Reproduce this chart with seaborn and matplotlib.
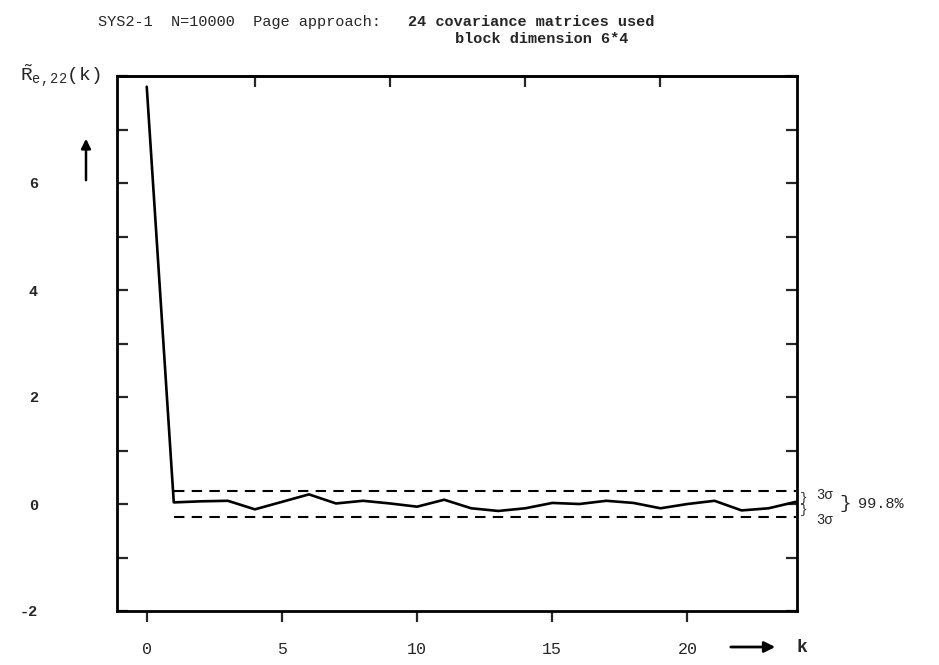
import numpy as np
import pandas as pd
import matplotlib
matplotlib.use("Agg")
import matplotlib.pyplot as plt
import matplotlib.transforms as mtrans
from matplotlib.ticker import MultipleLocator
import seaborn as sns

# ---- data ----
lags = list(range(0, 25))
r_e22 = [7.8, 0.03, 0.05, 0.06, -0.10, 0.04, 0.18, 0.01, 0.06, 0.01, -0.05,
         0.08, -0.08, -0.13, -0.08, 0.02, 0.00, 0.06, 0.02, -0.08, 0.00,
         0.06, -0.12, -0.08, 0.04]
conf_k = [1, 24]
conf_upper = [0.234, 0.234]
conf_lower = [-0.234, -0.234]
xticks = [0, 5, 10, 15, 20]
xticklabels = ["0", "5", "10", "15", "20"]
top_ticks = [4, 9, 14, 19]
yticks = [-2, 0, 2, 4, 6]
yticklabels = ["-2", "0", "2", "4", "6"]

sns.set_style("white")
plt.rcParams["font.family"] = ["Liberation Mono", "DejaVu Sans Mono", "DejaVu Sans"]
plt.rcParams["mathtext.fontset"] = "custom"
plt.rcParams["mathtext.rm"] = "Liberation Mono"
plt.rcParams["mathtext.it"] = "Liberation Mono"
plt.rcParams["mathtext.bf"] = "Liberation Mono:bold"

W, H = 939, 665
fig = plt.figure(figsize=(W / 100, H / 100), dpi=100)
fig.patch.set_facecolor("white")
ax = fig.add_axes([117 / W, (H - 611) / H, (797 - 117) / W, (611 - 76) / H])

df = pd.DataFrame({"k": lags, "R": r_e22})
sns.lineplot(data=df, x="k", y="R", ax=ax, color="black", lw=1.9)
dfu = pd.DataFrame({"k": conf_k, "v": conf_upper})
dfl = pd.DataFrame({"k": conf_k, "v": conf_lower})
for d in (dfu, dfl):
    sns.lineplot(data=d, x="k", y="v", ax=ax, color="black", lw=1.5,
                 linestyle=(0, (5, 3.5)))

ax.set_xlim(-1.1, 24.05)
ax.set_ylim(-2, 8)
ax.set_xlabel("")
ax.set_ylabel("")

for s in ax.spines.values():
    s.set_visible(True)
    s.set_linewidth(2.0)
    s.set_color("black")

ax.set_xticks(xticks)
ax.set_xticklabels(xticklabels, fontsize=12)
ax.tick_params(axis="x", direction="out", length=8, width=1.6, pad=14,
               bottom=True, top=False)
ax.set_yticks(yticks)
ax.set_yticklabels(yticklabels, fontsize=11, fontweight="bold")
ax.yaxis.set_minor_locator(MultipleLocator(1))
ax.tick_params(axis="y", which="both", direction="in", length=8, width=1.6,
               left=True, right=True, pad=57)

sec = ax.secondary_xaxis("top")
sec.set_xticks(top_ticks)
sec.tick_params(axis="x", direction="in", length=8, width=1.6, labeltop=False)
sec.spines["top"].set_linewidth(2.0)

# title
fig.text(98 / W, 1 - 22 / H, "SYS2-1  N=10000  Page approach:", fontsize=11,
         va="center", ha="left")
fig.text(408 / W, 1 - 22 / H, "24 covariance matrices used", fontsize=11,
         fontweight="bold", va="center", ha="left")
fig.text(455 / W, 1 - 39 / H, "block dimension 6*4", fontsize=11,
         fontweight="bold", va="center", ha="left")

# y label with arrow
fig.text(20 / W, 1 - 82 / H, r"$\tilde{\mathrm{R}}_{\mathrm{e,22}}\mathrm{(k)}$",
         fontsize=14, va="baseline", ha="left")
fig.add_artist(matplotlib.patches.FancyArrowPatch(
    (86 / W, 1 - 183 / H), (86 / W, 1 - 136 / H), transform=fig.transFigure,
    arrowstyle="-|>", mutation_scale=14, lw=1.8, color="black"))

# x arrow and k
fig.add_artist(matplotlib.patches.FancyArrowPatch(
    (728 / W, 1 - 647 / H), (778 / W, 1 - 647 / H), transform=fig.transFigure,
    arrowstyle="-|>", mutation_scale=16, lw=2.0, color="black"))
fig.text(797 / W, 1 - 647 / H, "k", fontsize=13, fontweight="bold",
         va="center", ha="left")

# right side sigma annotation
tr = mtrans.blended_transform_factory(ax.transAxes, ax.transData)
ax.text(1.004, 0.117, "}", transform=tr, fontsize=9, va="center", ha="left",
        clip_on=False)
ax.text(1.004, -0.117, "}", transform=tr, fontsize=9, va="center", ha="left",
        clip_on=False)
ax.text(1.028, 0.16, "3σ", transform=tr, fontsize=10, va="center", ha="left",
        clip_on=False)
ax.text(1.028, -0.30, "3σ", transform=tr, fontsize=10, va="center", ha="left",
        clip_on=False)
ax.text(1.062, 0.0, "}", transform=tr, fontsize=14, va="center", ha="left",
        clip_on=False)
ax.text(1.09, 0.0, "99.8%", transform=tr, fontsize=11, va="center", ha="left",
        clip_on=False)

fig.savefig("out.png", dpi=100, facecolor="white")
